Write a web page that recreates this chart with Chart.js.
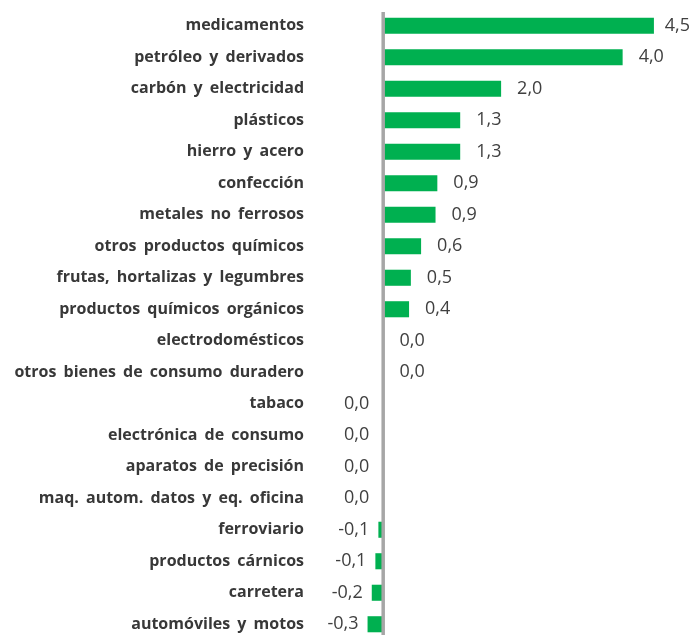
<!DOCTYPE html>
<html>
<head>
<meta charset="utf-8">
<script src="https://cdn.jsdelivr.net/npm/chart.js@4.4.1/dist/chart.umd.min.js"></script>
<style>
  html, body { margin:0; padding:0; background:#fff; overflow:hidden; }
  body { width:694px; height:635px; }
</style>
</head>
<body>
<canvas id="chart" width="694" height="641"></canvas>
<script>
const categories = [
  'medicamentos', 'petróleo y derivados', 'carbón y electricidad', 'plásticos',
  'hierro y acero', 'confección', 'metales no ferrosos', 'otros productos químicos',
  'frutas, hortalizas y legumbres', 'productos químicos orgánicos', 'electrodomésticos',
  'otros bienes de consumo duradero', 'tabaco', 'electrónica de consumo',
  'aparatos de precisión', 'maq. autom. datos y eq. oficina', 'ferroviario',
  'productos cárnicos', 'carretera', 'automóviles y motos'
];
const values = [
  4.5, 3.98, 1.96, 1.28,
  1.28, 0.9, 0.87, 0.63,
  0.46, 0.43, 0.004,
  0.004, -0.01, -0.01,
  -0.01, -0.01, -0.08,
  -0.13, -0.19, -0.26
];

(function () {
  const ctx = document.getElementById('chart').getContext('2d');

  function fmt(v){
    let r = Math.round(v * 10) / 10;
    if (r === 0) r = 0;
    return r.toFixed(1).replace('.', ',');
  }

  // wider word gaps on the category labels, like the original
  const spacing = {
    id: 'spacing',
    beforeDraw(chart){ chart.ctx.wordSpacing = '3px'; },
    afterDatasetsDraw(chart){ chart.ctx.wordSpacing = '0px'; }
  };

  // zero line drawn on top of the bars
  const zeroLine = {
    id: 'zeroLine',
    afterDatasetsDraw(chart){
      const x = chart.scales.x.getPixelForValue(0);
      const a = chart.chartArea;
      const c = chart.ctx;
      c.save();
      c.strokeStyle = '#a6a6a6';
      c.lineWidth = 3.5;
      c.beginPath();
      c.moveTo(x, a.top + 2);
      c.lineTo(x, a.bottom);
      c.stroke();
      c.restore();
    }
  };

  const valueLabels = {
    id: 'valueLabels',
    afterDraw(chart){
      const meta = chart.getDatasetMeta(0);
      const c = chart.ctx;
      c.save();
      c.wordSpacing = '0px';
      c.font = '18px "Open Sans", sans-serif';
      c.fillStyle = '#404040';
      c.textBaseline = 'middle';
      meta.data.forEach((bar, i) => {
        const v = values[i];
        const txt = fmt(v);
        if (v >= 0) {
          const w = c.measureText(txt).width;
          let x = bar.x + 16;
          if (x + w > chart.width - 4) x = chart.width - 4 - w;
          c.textAlign = 'left';
          c.fillText(txt, x, bar.y);
        } else {
          c.textAlign = 'right';
          c.fillText(txt, Math.min(bar.x, bar.base - 5) - 9, bar.y);
        }
      });
      c.restore();
    }
  };

  new Chart(ctx, {
    type: 'bar',
    data: {
      labels: categories,
      datasets: [{
        data: values,
        backgroundColor: '#00b050',
        borderWidth: 0,
        barPercentage: 0.51,
        categoryPercentage: 1.0
      }]
    },
    options: {
      indexAxis: 'y',
      responsive: false,
      animation: false,
      layout: {padding: {left: 0, right: 10, top: 10, bottom: 1}},
      plugins: {legend: {display: false}, tooltip: {enabled: false}},
      scales: {
        x: {display: false, min: -1.2, max: 5.0},
        y: {
          afterFit: (s) => { s.width = 311; s.paddingTop = 0; s.paddingBottom = 0; },
          border: {display: false},
          grid: {display: false, drawTicks: false},
          ticks: {
            padding: 7,
            autoSkip: false,
            color: '#383838',
            font: {family: '"Open Sans", sans-serif', size: 16, weight: 'bold'}
          }
        }
      }
    },
    plugins: [spacing, zeroLine, valueLabels]
  });
})();
</script>
</body>
</html>
